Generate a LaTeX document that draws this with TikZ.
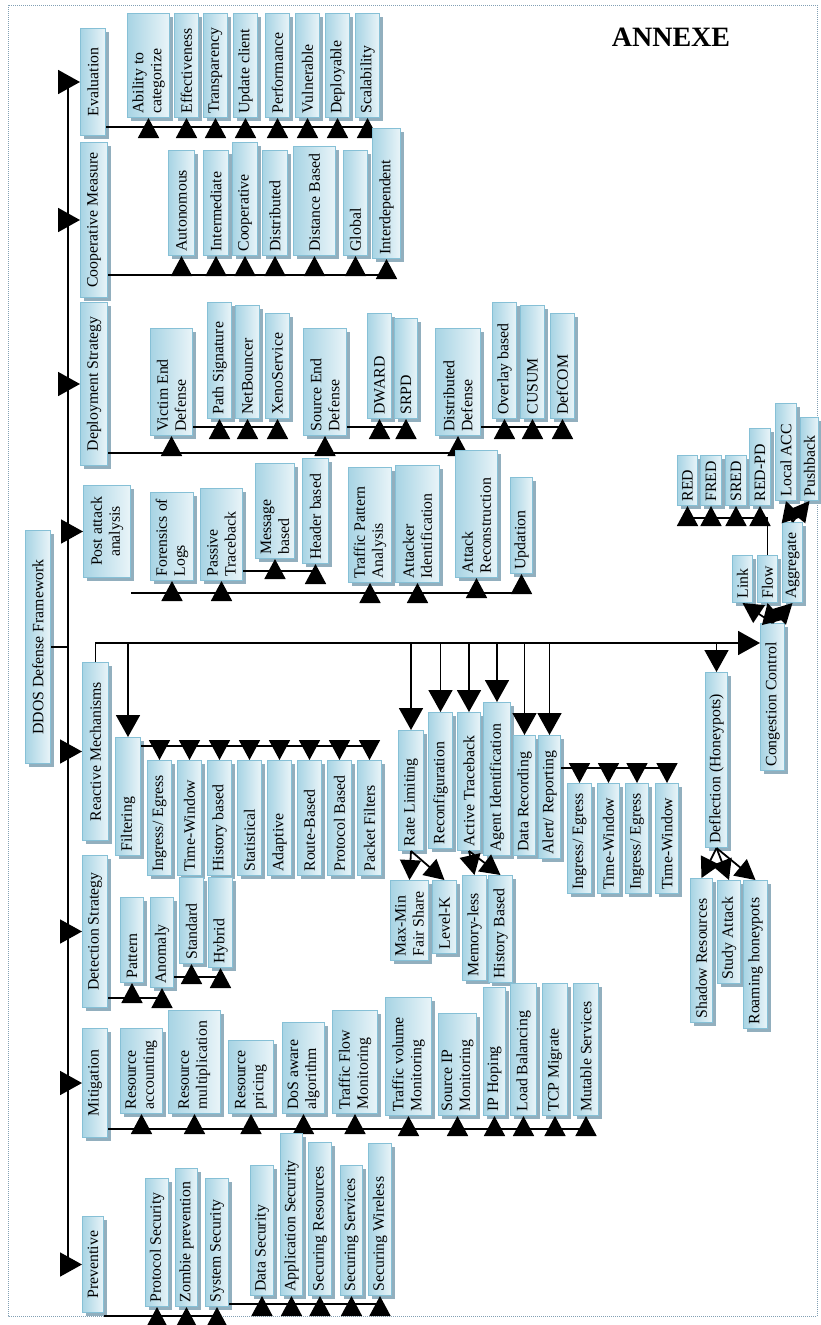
\documentclass[tikz,border=0pt]{standalone}
\usepackage{fontspec}
\setmainfont{Liberation Serif}
\usepackage{graphicx}
\usetikzlibrary{arrows.meta,shadows}

\definecolor{boxblue}{RGB}{168,212,228}
\definecolor{boxedge}{RGB}{134,192,214}
\definecolor{boxshade}{RGB}{146,175,190}
\definecolor{framecol}{RGB}{130,160,180}

\tikzset{
  blk/.style={draw=boxedge, line width=1pt, inner sep=0pt,
    left color=boxblue, right color=white!75!boxblue,
    general shadow={fill=boxshade, shadow xshift=3pt, shadow yshift=-3pt},
    font=\fontsize{15.8}{18}\selectfont},
  line/.style={line width=1.8pt},
  spine/.style={line width=2.4pt},
  arr/.style={line width=1.8pt, -{Triangle[length=20pt,width=21pt]}},
  bigarr/.style={line width=1.8pt, -{Triangle[length=22pt,width=24pt]}},
}

% box from (x1,y1) to (x2,y2), text running upwards
\newcommand{\bx}[7][\raggedright]{%
  \node[blk, anchor=north west, minimum width={(#5-#3)*1pt},
        minimum height={(#6-#4)*1pt}] (#2) at (#3,#4)
       {\rotatebox{90}{\parbox{\dimexpr#6pt-#4pt-8pt\relax}{#1#7}}};}

\begin{document}
\begin{tikzpicture}[x=1pt, y=-1pt]
  \useasboundingbox (0,0) rectangle (820,1325);
  \draw[framecol, densely dotted, line width=1pt] (8,5) rectangle (817,1316);

  \node[font=\fontsize{28}{30}\selectfont\bfseries] (annexe) at (671,37) {ANNEXE};

  % root and main branches
  \bx[\centering]{ddos}{25}{530}{50}{763}{DDOS Defense Framework}
  \bx[\centering]{ev}{80}{28}{105}{135}{Evaluation}
  \bx[\centering]{cm}{80}{142}{107}{297}{Cooperative Measure}
  \bx[\centering]{ds}{80}{302}{107}{465}{Deployment Strategy}
  \bx[\centering]{pa}{83}{485}{130}{577}{Post attack\\analysis}
  \bx[\centering]{rm}{82}{662}{108}{840}{Reactive Mechanisms}
  \bx[\centering]{dt}{82}{855}{107}{1007}{Detection Strategy}
  \bx[\centering]{mi}{82}{1028}{107}{1137}{Mitigation}
  \bx[\centering]{pv}{82}{1216}{103}{1312}{Preventive}

  \coordinate (spinex) at (68,0);
  \draw[spine] (spinex |- ev.west) -- (spinex |- pv.west);
  \draw[line] (ddos.east) -- (spinex |- ddos.east);
  \draw[bigarr] (spinex |- ev.west) -- (ev.west);
  \draw[bigarr] (spinex |- cm.west) -- (cm.west);
  \draw[bigarr] (spinex |- ds.west) -- (ds.west);
  \draw[bigarr] (spinex |- pa.west) -- (pa.west);
  \draw[bigarr] (spinex |- rm.west) -- (rm.west);
  \draw[bigarr] (spinex |- dt.west) -- (dt.west);
  \draw[bigarr] (spinex |- mi.west) -- (mi.west);
  \draw[bigarr] (spinex |- pv.west) -- (pv.west);

  % evaluation
  \bx{ev1}{127}{13}{169}{117}{Ability to\\categorize}
  \bx{ev2}{174}{13}{198}{117}{Effectiveness}
  \bx{ev3}{203}{13}{227}{117}{Transparency}
  \bx{ev4}{233}{13}{257}{117}{Update client}
  \bx{ev5}{265}{13}{289}{117}{Performance}
  \bx{ev6}{295}{13}{319}{117}{Vulnerable}
  \bx{ev7}{325}{13}{349}{117}{Deployable}
  \bx{ev8}{355}{13}{379}{117}{Scalability}
  \coordinate (evbus) at (0,127);
  \draw[line] (ev.east |- evbus) -- (ev8.south |- evbus);
  \draw[arr] (ev1.south |- evbus) -- (ev1.south);
  \draw[arr] (ev2.south |- evbus) -- (ev2.south);
  \draw[arr] (ev3.south |- evbus) -- (ev3.south);
  \draw[arr] (ev4.south |- evbus) -- (ev4.south);
  \draw[arr] (ev5.south |- evbus) -- (ev5.south);
  \draw[arr] (ev6.south |- evbus) -- (ev6.south);
  \draw[arr] (ev7.south |- evbus) -- (ev7.south);
  \draw[arr] (ev8.south |- evbus) -- (ev8.south);

  % cooperative measure
  \bx{cm1}{168}{150}{194}{255}{Autonomous}
  \bx{cm2}{203}{150}{228}{255}{Intermediate}
  \bx{cm3}{232}{142}{257}{255}{Cooperative}
  \bx{cm4}{262}{150}{287}{255}{Distributed}
  \bx{cm5}{293}{146}{335}{255}{Distance Based}
  \bx{cm6}{343}{150}{367}{255}{Global}
  \bx{cm7}{372}{128}{400}{258}{Interdependent}
  \coordinate (cmbus) at (0,275);
  \draw[line] (cm.east |- cmbus) -- (cm7.south |- cmbus);
  \draw[arr] (cm1.south |- cmbus) -- (cm1.south);
  \draw[arr] (cm2.south |- cmbus) -- (cm2.south);
  \draw[arr] (cm3.south |- cmbus) -- (cm3.south);
  \draw[arr] (cm4.south |- cmbus) -- (cm4.south);
  \draw[arr] (cm5.south |- cmbus) -- (cm5.south);
  \draw[arr] (cm6.south |- cmbus) -- (cm6.south);
  \draw[arr] (cm7.south |- cmbus) -- (cm7.south);

  % deployment strategy
  \bx{ve}{150}{328}{192}{435}{Victim End\\Defense}
  \bx{ps}{207}{302}{231}{418}{Path Signature}
  \bx{nb}{235}{305}{259}{418}{NetBouncer}
  \bx{xs}{265}{313}{289}{418}{XenoService}
  \bx{se}{303}{328}{346}{435}{Source End\\Defense}
  \bx{dw}{367}{313}{391}{418}{DWARD}
  \bx{sp}{394}{318}{417}{418}{SRPD}
  \bx{dd}{435}{328}{480}{435}{Distributed\\Defense}
  \bx{ob}{492}{302}{516}{418}{Overlay based}
  \bx{cu}{520}{305}{544}{418}{CUSUM}
  \bx{dc}{550}{313}{574}{418}{DefCOM}
  \coordinate (dsbus) at (0,453);
  \coordinate (dssub) at (0,427);
  \draw[line] (ds.east |- dsbus) -- (dd.south |- dsbus);
  \draw[arr] (ve.south |- dsbus) -- (ve.south);
  \draw[arr] (se.south |- dsbus) -- (se.south);
  \draw[arr] (dd.south |- dsbus) -- (dd.south);
  \draw[line] (ve.east |- dssub) -- (xs.south |- dssub);
  \draw[arr] (ps.south |- dssub) -- (ps.south);
  \draw[arr] (nb.south |- dssub) -- (nb.south);
  \draw[arr] (xs.south |- dssub) -- (xs.south);
  \draw[line] (se.east |- dssub) -- (sp.south |- dssub);
  \draw[arr] (dw.south |- dssub) -- (dw.south);
  \draw[arr] (sp.south |- dssub) -- (sp.south);
  \draw[line] (dd.east |- dssub) -- (dc.south |- dssub);
  \draw[arr] (ob.south |- dssub) -- (ob.south);
  \draw[arr] (cu.south |- dssub) -- (cu.south);
  \draw[arr] (dc.south |- dssub) -- (dc.south);

  % post attack analysis
  \bx{fo}{150}{492}{193}{580}{Forensics of\\Logs}
  \bx{pt}{200}{488}{242}{580}{Passive\\Traceback}
  \bx{mb}{255}{463}{294}{558}{Message\\based}
  \bx{hd}{302}{458}{328}{563}{Header based}
  \bx{tp}{348}{467}{391}{582}{Traffic Pattern\\Analysis}
  \bx{ai}{395}{465}{439}{582}{Attacker\\Identification}
  \bx{ac}{455}{450}{497}{577}{Attack\\Reconstruction}
  \bx{ud}{510}{477}{532}{573}{Updation}
  \coordinate (pabus) at (0,593);
  \coordinate (ptbus) at (0,571);
  \draw[line] (pa.east |- pabus) -- (ud.south |- pabus);
  \draw[arr] (fo.south |- pabus) -- (fo.south);
  \draw[arr] (pt.south |- pabus) -- (pt.south);
  \draw[arr] (tp.south |- pabus) -- (tp.south);
  \draw[arr] (ai.south |- pabus) -- (ai.south);
  \draw[arr] (ac.south |- pabus) -- (ac.south);
  \draw[arr] (ud.south |- pabus) -- (ud.south);
  \draw[line] (pt.east |- ptbus) -- (hd.south |- ptbus);
  \draw[arr] (mb.south |- ptbus) -- (mb.south);
  \draw[arr] (hd.south |- ptbus) -- (hd.south);

  % reactive mechanisms
  \bx{flt}{115}{737}{140}{855}{Filtering}
  \bx{rl}{398}{730}{423}{850}{Rate Limiting}
  \bx{rc}{428}{712}{452}{848}{Reconfiguration}
  \bx{at}{457}{712}{480}{850}{Active Traceback}
  \bx{aid}{483}{702}{510}{855}{Agent Identification}
  \bx{dr}{513}{735}{535}{855}{Data Recording}
  \bx{ar}{538}{735}{560}{858}{Alert/ Reporting}
  \bx{df}{705}{672}{727}{847}{Deflection (Honeypots)}
  \bx{cc}{760}{623}{784}{770}{Congestion Control}
  \coordinate (rmbus) at (0,643);
  \draw[bigarr] (rm.north) |- (cc.west |- rmbus);
  \draw[bigarr] (flt.north |- rmbus) -- (flt.north);
  \draw[bigarr] (rl.north |- rmbus) -- (rl.north);
  \draw[bigarr] (rc.north |- rmbus) -- (rc.north);
  \draw[bigarr] (at.north |- rmbus) -- (at.north);
  \draw[bigarr] (aid.north |- rmbus) -- (aid.north);
  \draw[bigarr] (dr.north |- rmbus) -- (dr.north);
  \draw[bigarr] (ar.north |- rmbus) -- (ar.north);
  \draw[bigarr] (df.north |- rmbus) -- (df.north);

  % filtering
  \bx{fi1}{147}{760}{171}{875}{Ingress/ Egress}
  \bx{fi2}{177}{760}{201}{875}{Time-Window}
  \bx{fi3}{207}{760}{231}{875}{History based}
  \bx{fi4}{237}{760}{261}{875}{Statistical}
  \bx{fi5}{267}{760}{291}{875}{Adaptive}
  \bx{fi6}{297}{760}{321}{875}{Route-Based}
  \bx{fi7}{327}{760}{351}{875}{Protocol Based}
  \bx{fi8}{357}{760}{381}{875}{Packet Filters}
  \coordinate (fltbus) at (0,746);
  \draw[line] (flt.east |- fltbus) -- (fi8.north |- fltbus);
  \draw[arr] (fi1.north |- fltbus) -- (fi1.north);
  \draw[arr] (fi2.north |- fltbus) -- (fi2.north);
  \draw[arr] (fi3.north |- fltbus) -- (fi3.north);
  \draw[arr] (fi4.north |- fltbus) -- (fi4.north);
  \draw[arr] (fi5.north |- fltbus) -- (fi5.north);
  \draw[arr] (fi6.north |- fltbus) -- (fi6.north);
  \draw[arr] (fi7.north |- fltbus) -- (fi7.north);
  \draw[arr] (fi8.north |- fltbus) -- (fi8.north);

  % rate limiting, traceback
  \bx{mm}{390}{880}{428}{960}{Max-Min\\Fair Share}
  \bx{lk}{432}{880}{456}{953}{Level-K}
  \bx{ml}{462}{875}{486}{980}{Memory-less}
  \bx{hb}{488}{875}{512}{982}{History Based}
  \draw[arr] (rl.south) -- (mm.north);
  \draw[arr] (rl.south) -- (lk.north);
  \draw[arr] (at.south) -- (ml.north);
  \draw[arr] (at.south) -- (hb.north);

  % alert / reporting
  \bx{al1}{567}{783}{591}{893}{Ingress/ Egress}
  \bx{al2}{597}{783}{619}{893}{Time-Window}
  \bx{al3}{625}{783}{648}{893}{Ingress/ Egress}
  \bx{al4}{655}{783}{678}{893}{Time-Window}
  \coordinate (arbus) at (0,768);
  \draw[line] (ar.east |- arbus) -- (al4.north |- arbus);
  \draw[arr] (al1.north |- arbus) -- (al1.north);
  \draw[arr] (al2.north |- arbus) -- (al2.north);
  \draw[arr] (al3.north |- arbus) -- (al3.north);
  \draw[arr] (al4.north |- arbus) -- (al4.north);

  % deflection
  \bx{sh}{690}{878}{712}{1022}{Shadow Resources}
  \bx{sa}{717}{880}{740}{983}{Study Attack}
  \bx{ro}{743}{880}{767}{1028}{Roaming honeypots}
  \draw[arr] (df.south) -- (sh.north);
  \draw[arr] (df.south) -- (sa.north);
  \draw[arr] (df.south) -- (ro.north);

  % congestion control
  \bx{lnk}{732}{555}{752}{602}{Link}
  \bx{fw}{757}{555}{777}{602}{Flow}
  \bx{ag}{782}{522}{802}{602}{Aggregate}
  \bx{rd}{677}{455}{697}{505}{RED}
  \bx{fr}{700}{455}{721}{505}{FRED}
  \bx{sr}{725}{455}{746}{505}{SRED}
  \bx{rp}{749}{428}{770}{505}{RED-PD}
  \bx{la}{775}{403}{796}{500}{Local ACC}
  \bx{pb}{800}{417}{818}{500}{Pushback}
  \draw[arr] (cc.north) -- (lnk.south);
  \draw[arr] (cc.north) -- (fw.south);
  \draw[arr] (cc.north) -- (ag.south);
  \coordinate (fwbus) at (0,518);
  \draw[line] (fw.north) -- (fw.north |- fwbus) -- (rd.south |- fwbus);
  \draw[arr] (rd.south |- fwbus) -- (rd.south);
  \draw[arr] (fr.south |- fwbus) -- (fr.south);
  \draw[arr] (sr.south |- fwbus) -- (sr.south);
  \draw[arr] (rp.south |- fwbus) -- (rp.south);
  \draw[arr] (ag.north) -- (la.south);
  \draw[arr] (ag.north) -- (pb.south);

  % detection strategy
  \bx{pn}{120}{897}{143}{982}{Pattern}
  \bx{an}{150}{897}{173}{987}{Anomaly}
  \bx{sd}{179}{877}{203}{963}{Standard}
  \bx{hy}{208}{877}{232}{967}{Hybrid}
  \coordinate (dtbus) at (0,998);
  \coordinate (anbus) at (0,977);
  \draw[line] (dt.east |- dtbus) -- (an.south |- dtbus);
  \draw[arr] (pn.south |- dtbus) -- (pn.south);
  \draw[arr] (an.south |- dtbus) -- (an.south);
  \draw[line] (an.east |- anbus) -- (hy.south |- anbus);
  \draw[arr] (sd.south |- anbus) -- (sd.south);
  \draw[arr] (hy.south |- anbus) -- (hy.south);

  % mitigation
  \bx{mt1}{120}{1028}{162}{1113}{Resource\\accounting}
  \bx{mt2}{168}{1010}{220}{1113}{Resource\\multiplication}
  \bx{mt3}{228}{1040}{273}{1113}{Resource\\pricing}
  \bx{mt4}{282}{1022}{324}{1113}{DoS aware\\algorithm}
  \bx{mt5}{332}{1010}{377}{1113}{Traffic Flow\\Monitoring}
  \bx{mt6}{385}{997}{431}{1115}{Traffic volume\\Monitoring}
  \bx{mt7}{438}{1013}{476}{1115}{Source IP\\Monitoring}
  \bx{mt8}{483}{987}{505}{1115}{IP Hoping}
  \bx{mt9}{510}{983}{536}{1115}{Load Balancing}
  \bx{mt10}{542}{983}{567}{1115}{TCP Migrate}
  \bx{mt11}{573}{983}{598}{1115}{Mutable Services}
  \coordinate (mibus) at (0,1129);
  \draw[line] (mi.east |- mibus) -- (mt11.south |- mibus);
  \draw[arr] (mt1.south |- mibus) -- (mt1.south);
  \draw[arr] (mt2.south |- mibus) -- (mt2.south);
  \draw[arr] (mt3.south |- mibus) -- (mt3.south);
  \draw[arr] (mt4.south |- mibus) -- (mt4.south);
  \draw[arr] (mt5.south |- mibus) -- (mt5.south);
  \draw[arr] (mt6.south |- mibus) -- (mt6.south);
  \draw[arr] (mt7.south |- mibus) -- (mt7.south);
  \draw[arr] (mt8.south |- mibus) -- (mt8.south);
  \draw[arr] (mt9.south |- mibus) -- (mt9.south);
  \draw[arr] (mt10.south |- mibus) -- (mt10.south);
  \draw[arr] (mt11.south |- mibus) -- (mt11.south);

  % preventive
  \bx{pr1}{145}{1178}{168}{1306}{Protocol Security}
  \bx{pr2}{175}{1168}{197}{1306}{Zombie prevention}
  \bx{pr3}{205}{1178}{228}{1306}{System Security}
  \bx{pr4}{250}{1165}{273}{1295}{Data Security}
  \bx{pr5}{280}{1133}{302}{1295}{Application Security}
  \bx{pr6}{308}{1142}{331}{1295}{Securing Resources}
  \bx{pr7}{340}{1165}{362}{1295}{Securing Services}
  \bx{pr8}{368}{1143}{391}{1295}{Securing Wireless}
  \coordinate (pvbus) at (0,1316);
  \coordinate (sybus) at (0,1304);
  \draw[line] (pv.east |- pvbus) -- (pr3.south |- pvbus);
  \draw[arr] (pr1.south |- pvbus) -- (pr1.south);
  \draw[arr] (pr2.south |- pvbus) -- (pr2.south);
  \draw[arr] (pr3.south |- pvbus) -- (pr3.south);
  \draw[line] (pr3.east |- sybus) -- (pr8.south |- sybus);
  \draw[arr] (pr4.south |- sybus) -- (pr4.south);
  \draw[arr] (pr5.south |- sybus) -- (pr5.south);
  \draw[arr] (pr6.south |- sybus) -- (pr6.south);
  \draw[arr] (pr7.south |- sybus) -- (pr7.south);
  \draw[arr] (pr8.south |- sybus) -- (pr8.south);
\end{tikzpicture}
\end{document}
